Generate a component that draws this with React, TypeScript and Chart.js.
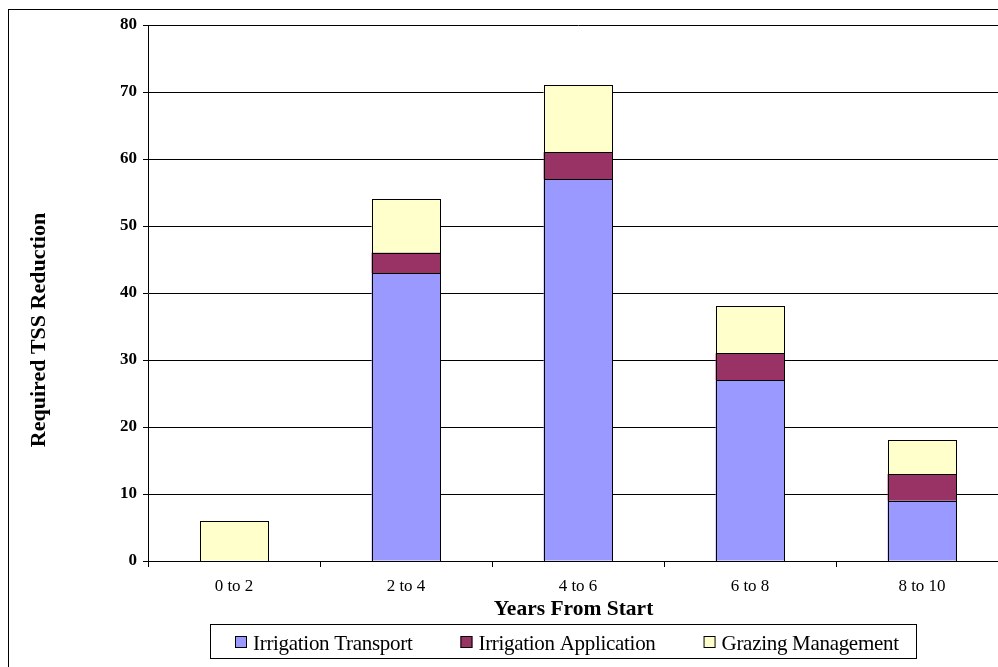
import React, { useEffect, useRef } from "react";
import { Chart, registerables } from "chart.js";

Chart.register(...registerables);

const categories = ["0 to 2", "2 to 4", "4 to 6", "6 to 8", "8 to 10"];
const irrigationTransport = [0, 43, 57, 27, 9];
const irrigationApplication = [0, 3, 4, 4, 4];
const grazingManagement = [6, 8, 10, 7, 5];
const seriesNames = ["Irrigation Transport", "Irrigation Application", "Grazing Management"];
const seriesColors = ["#9999FF", "#993366", "#FFFFCC"];
const yMin = 0;
const yMax = 80;
const yStep = 10;
const xTitle = "Years From Start";
const yTitle = "Required TSS Reduction";

const W = 1100;
const H = 680;
const FONT = '"Liberation Serif", "Times New Roman", serif';

export default function App() {
  const ref = useRef<HTMLCanvasElement>(null);

  useEffect(() => {
    const canvas = ref.current!;

    const barOutlines = {
      id: "barOutlines",
      afterDatasetsDraw(chart: any) {
        const ctx = chart.ctx as CanvasRenderingContext2D;
        ctx.save();
        ctx.strokeStyle = "#000";
        ctx.lineWidth = 1;
        chart.data.datasets.forEach((_: any, di: number) => {
          const meta = chart.getDatasetMeta(di);
          meta.data.forEach((el: any) => {
            const p = el.getProps(["x", "y", "base", "width"], true);
            const l = Math.round(p.x - p.width / 2);
            const r = Math.round(p.x + p.width / 2);
            const t = Math.round(Math.min(p.y, p.base));
            const b = Math.round(Math.max(p.y, p.base));
            if (b - t < 1) return;
            ctx.strokeRect(l + 0.5, t + 0.5, r - l, b - t);
          });
        });
        ctx.restore();
      },
    };

    const overlay = {
      id: "overlay",
      afterDraw(chart: any) {
        const ctx = chart.ctx as CanvasRenderingContext2D;
        // Y title
        ctx.save();
        ctx.fillStyle = "#000";
        ctx.font = `bold 22px ${FONT}`;
        ctx.textAlign = "center";
        ctx.textBaseline = "alphabetic";
        ctx.translate(45, 330);
        ctx.rotate(-Math.PI / 2);
        ctx.fillText(yTitle, 0, 0);
        ctx.restore();

        // X title
        ctx.save();
        ctx.fillStyle = "#000";
        ctx.font = `bold 21.5px ${FONT}`;
        ctx.textAlign = "center";
        ctx.textBaseline = "alphabetic";
        ctx.fillText(xTitle, 573.5, 615);
        ctx.restore();

        // Legend
        ctx.save();
        ctx.font = `21px ${FONT}`;
        (ctx as any).letterSpacing = "-0.3px";
        ctx.textAlign = "left";
        ctx.textBaseline = "alphabetic";
        const boxLeft = 210;
        const boxTop = 624;
        const boxH = 34;
        let x = boxLeft + 25;
        const ds = chart.data.datasets;
        for (let i = 0; i < ds.length; i++) {
          ctx.fillStyle = ds[i].backgroundColor;
          ctx.fillRect(x, 636, 12, 12);
          ctx.strokeStyle = "#000";
          ctx.lineWidth = 1;
          ctx.strokeRect(x + 0.5, 636.5, 11, 11);
          ctx.fillStyle = "#000";
          const label = ds[i].label as string;
          ctx.fillText(label, x + 18, 650);
          const w = ctx.measureText(label).width;
          x += 18 + w + (i < ds.length - 1 ? 48 : 0);
        }
        const boxRight = Math.round(x + 17);
        ctx.strokeStyle = "#000";
        ctx.lineWidth = 1;
        ctx.strokeRect(boxLeft + 0.5, boxTop + 0.5, boxRight - boxLeft, boxH);
        ctx.restore();
      },
    };

    const mk = (i: number, data: number[]) => ({
      label: seriesNames[i],
      data,
      backgroundColor: seriesColors[i],
      borderWidth: 0,
      categoryPercentage: 1,
      barPercentage: 0.4,
    });

    const chart = new Chart(canvas, {
      type: "bar",
      data: {
        labels: categories,
        datasets: [
          mk(0, irrigationTransport),
          mk(1, irrigationApplication),
          mk(2, grazingManagement),
        ],
      },
      options: {
        responsive: false,
        animation: false,
        devicePixelRatio: 1,
        layout: { padding: { left: 0, top: 25, right: W - 1008, bottom: 0 } },
        plugins: {
          legend: { display: false },
          tooltip: { enabled: false },
          title: { display: false },
        },
        scales: {
          x: {
            stacked: true,
            offset: true,
            grid: {
              display: true,
              offset: true,
              drawOnChartArea: false,
              drawTicks: true,
              tickLength: 6,
              color: "#000",
              lineWidth: 1,
            },
            border: { display: true, color: "#000", width: 1 },
            ticks: {
              color: "#000",
              font: { family: FONT, size: 17, weight: "normal" },
              padding: 9,
              maxRotation: 0,
              autoSkip: false,
            },
            afterFit(scale: any) {
              scale.height = H - 561;
            },
          },
          y: {
            stacked: true,
            min: yMin,
            max: yMax,
            grid: {
              display: true,
              drawOnChartArea: true,
              drawTicks: true,
              tickLength: 5,
              color: "#000",
              lineWidth: 1,
            },
            border: { display: true, color: "#000", width: 1 },
            ticks: {
              stepSize: yStep,
              color: "#000",
              font: { family: FONT, size: 17, weight: "bold" },
              padding: 6,
            },
            afterFit(scale: any) {
              scale.width = 148;
            },
          },
        },
      },
      plugins: [barOutlines, overlay],
    });
    return () => chart.destroy();
  }, []);

  return (
    <div
      style={{
        position: "fixed",
        left: 0,
        top: 0,
        width: 998,
        height: 667,
        overflow: "hidden",
        background: "#fff",
      }}
    >
      <div
        style={{
          position: "absolute",
          left: 8,
          top: 9,
          width: 1100,
          height: 700,
          border: "1px solid #000",
          boxSizing: "border-box",
        }}
      />
      <canvas
        ref={ref}
        width={W}
        height={H}
        style={{ position: "absolute", left: 0, top: 0, width: W, height: H }}
      />
    </div>
  );
}
